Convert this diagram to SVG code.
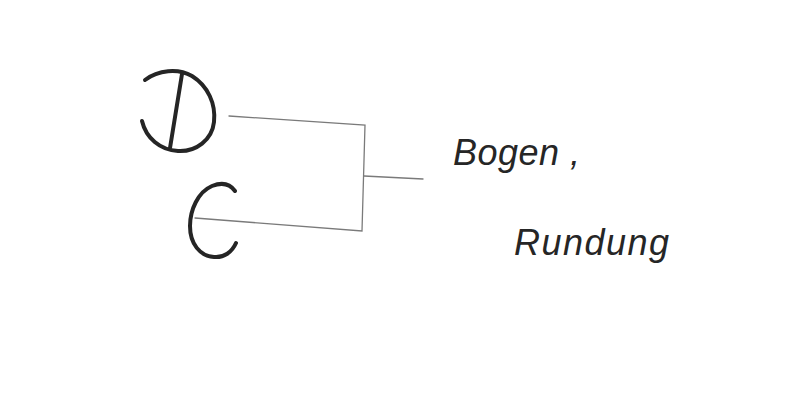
<svg xmlns="http://www.w3.org/2000/svg" width="800" height="402" viewBox="0 0 800 402">
<style>
.sym{fill:none;stroke:#252525;stroke-width:4;stroke-linecap:round;stroke-linejoin:round}
.con{fill:none;stroke:#7a7a7a;stroke-width:1.3;stroke-linecap:round}
.lbl{font-family:"Liberation Sans",Arial,sans-serif;font-style:italic;font-size:36px;fill:#262626}
</style>
<rect width="800" height="402" fill="#ffffff"/>
<g id="symbol-d">
<path class="sym" d="M145,80 C158,70 178,68 192,76 C208,86 216,104 214,122 C212,140 196,152 178,151 C160,150 146,138 142,121"/>
<path class="sym" d="M182,74 L170,148"/>
</g>
<g id="symbol-c">
<path class="sym" d="M235,191 C230,184 222,182 212,186 C198,192 190,210 190,226 C190,244 200,256 214,257 C224,258 232,252 236,243"/>
</g>
<g id="connectors">
<path class="con" d="M229,116 L365,125 L362,231 L195,218"/>
<path class="con" d="M364,176 L423,179"/>
</g>
<g id="label">
<text class="lbl" x="453" y="165" letter-spacing="0.5">Bogen <tspan dx="0">,</tspan></text>
<text class="lbl" x="514" y="255" letter-spacing="1.5">Rundung</text>
</g>
</svg>
